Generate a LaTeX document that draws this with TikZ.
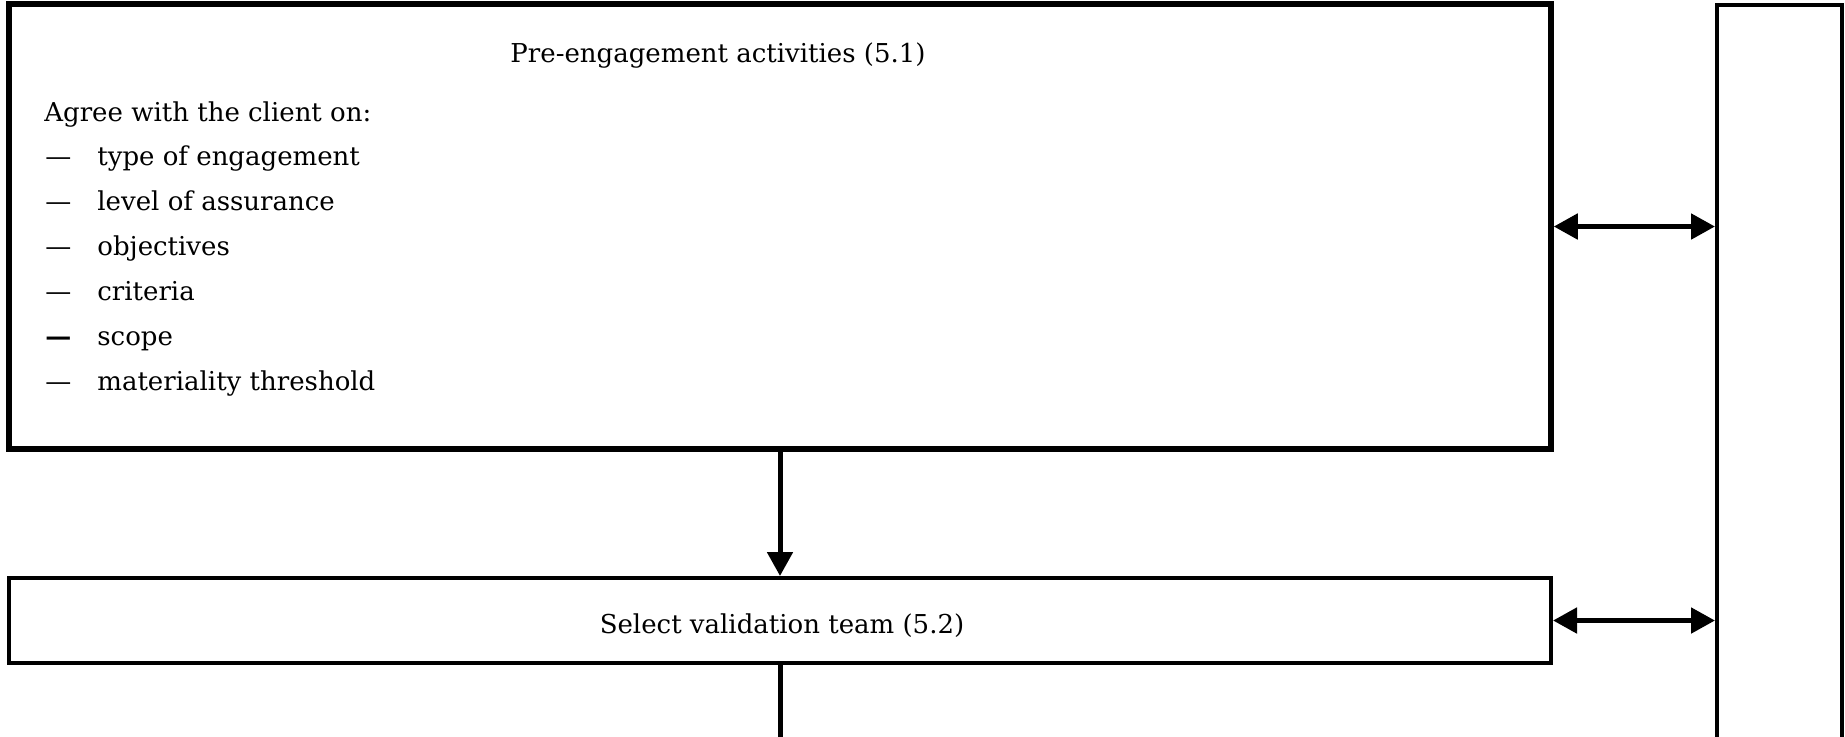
\documentclass[tikz,border=0pt]{standalone}
\usepackage{fontspec}
\setmainfont{DejaVu Serif}
\usetikzlibrary{arrows.meta}
\begin{document}
\begin{tikzpicture}[x=0.5pt,y=-0.5pt,
  box/.style={draw, rectangle, inner sep=0pt, line width=2pt},
  txt/.style={anchor=base west, inner sep=0pt, font=\fontsize{13}{15}\selectfont},
  arr/.style={line width=2.5pt, -{Triangle[length=12pt,width=12.5pt]}},
  darr/.style={line width=2.5pt, {Triangle[length=12pt,width=12.5pt]}-{Triangle[length=12pt,width=12.5pt]}}
]
\useasboundingbox (0,0) rectangle (1845,736);
\clip (0,0) rectangle (1845,736);
\fill[white] (0,0) rectangle (1845,736);
% boxes
\node[box, line width=2.75pt, minimum width=771pt, minimum height=222.5pt] (pre) at (780,226.5) {};
\node[box, minimum width=771pt, minimum height=42.5pt] (sel) at (780,620.5) {};
\node[box, minimum width=62.5pt, minimum height=400pt] (side) at (1779.5,405) {};
% texts
\node[txt, anchor=base] (pretitle) at (718,62) {Pre-engagement activities (5.1)};
\node[txt] (agree) at (44,121) {Agree with the client on:};
\node[txt] (d1) at (45,165) {—};
\node[txt] (i1) at (97,165) {type of engagement};
\node[txt] (d2) at (45,210) {—};
\node[txt] (i2) at (97,210) {level of assurance};
\node[txt] (d3) at (45,255) {—};
\node[txt] (i3) at (97,255) {objectives};
\node[txt] (d4) at (45,300) {—};
\node[txt] (i4) at (97,300) {criteria};
\node[txt] (d5) at (45,345) {\bfseries —};
\node[txt] (i5) at (97,345) {scope};
\node[txt] (d6) at (45,390) {—};
\node[txt] (i6) at (97,390) {materiality threshold};
\node[txt, anchor=base] (seltitle) at (782,633) {Select validation team (5.2)};
% connectors
\coordinate (bot) at (780,760);
\draw[arr] (pre.south) -- (sel.north);
\draw[line width=2.5pt] (sel.south) -- (bot);
\draw[darr] (pre.east) -- (pre.east -| side.west);
\draw[darr] (sel.east) -- (sel.east -| side.west);
\end{tikzpicture}
\end{document}
